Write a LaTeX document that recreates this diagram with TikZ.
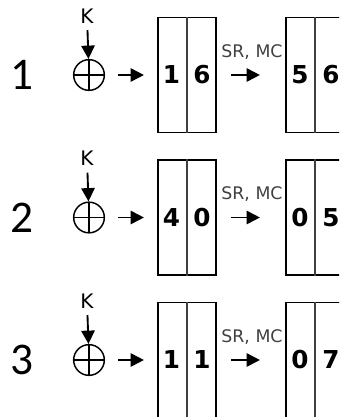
\documentclass[tikz,border=0pt]{standalone}
\usepackage{fontspec}
\setmainfont{DejaVu Sans}
\newfontfamily\roundfont{Carlito}
\usetikzlibrary{arrows.meta,positioning}

\tikzset{
  rownum/.style={font=\roundfont\fontsize{34}{34}\selectfont, inner sep=0pt},
  keylabel/.style={font=\fontsize{15}{15}\selectfont, inner sep=0pt},
  oplabel/.style={font=\fontsize{13}{13}\selectfont, text=black!75, inner sep=0pt},
  digit/.style={font=\bfseries\fontsize{18.5}{18.5}\selectfont, inner sep=0pt},
  xor/.style={circle, draw, line width=1.1pt, minimum size=23pt, inner sep=0pt,
    path picture={
      \draw[line width=1pt] (path picture bounding box.north) -- (path picture bounding box.south)
                            (path picture bounding box.west) -- (path picture bounding box.east);}},
  cell/.style={draw, line width=1.1pt, minimum width=43.5pt, minimum height=86pt, inner sep=0pt},
  divider/.style={line width=0.9pt, black!75},
  flow/.style={->, line width=1.4pt}
}

\begin{document}
\begin{tikzpicture}[x=0.75pt,y=-0.75pt,>={Triangle[length=10pt,width=10pt]}]
  \useasboundingbox (0,0) rectangle (339,417);
  \clip (0,0) rectangle (339,417);
  \foreach \r/\a/\b/\c/\d [count=\i from 0] in {1/1/6/5/6, 2/4/0/0/5, 3/1/1/0/7} {
    \pgfmathsetmacro\y{75+142.5*\i}
    % round number
    \node[rownum] (num\r) at (22,\y) {\r};
    % round key added
    \node[xor] (xor\r) at (89,\y) {};
    \node[keylabel] (key\r) at (87,\y-59) {K};
    \draw[flow, shorten <=5pt] (key\r) -- (xor\r);
    % state after key addition
    \node[cell] (st\r) at (187,\y) {};
    \draw[divider] (st\r.north) -- (st\r.south);
    \node[digit] (sa\r) at (171.5,\y) {\a};
    \node[digit] (sb\r) at (202,\y) {\b};
    \draw[flow, shorten <=10pt, shorten >=10pt] (xor\r) -- (st\r);
    % state after ShiftRows / MixColumns
    \node[cell] (mc\r) at (315,\y) {};
    \draw[divider] (mc\r.north) -- (mc\r.south);
    \node[digit] (ma\r) at (300,\y) {\c};
    \node[digit] (mb\r) at (331,\y) {\d};
    \node[oplabel] (op\r) at (252,\y-23) {SR, MC};
    \draw[flow, shorten <=11pt, shorten >=19pt] (st\r) -- (mc\r);
  }
\end{tikzpicture}
\end{document}
